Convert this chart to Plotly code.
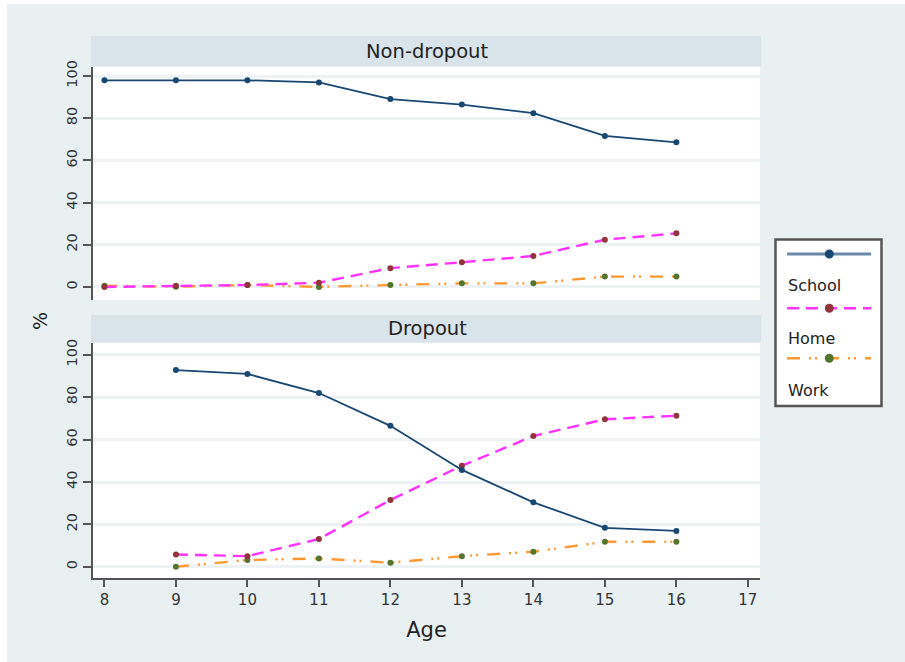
import plotly.graph_objects as go

# ---------------- data ----------------
ages_nd = [8, 9, 10, 11, 12, 13, 14, 15, 16]
school_nd = [98, 98, 98, 97, 89.1, 86.5, 82.4, 71.6, 68.6]
home_nd = [0, 0.6, 0.9, 2, 8.9, 11.7, 14.7, 22.4, 25.4]
work_nd = [0.6, 0.1, 0.9, 0, 0.9, 1.7, 1.7, 4.9, 4.9]

ages_d = [9, 10, 11, 12, 13, 14, 15, 16]
school_d = [92.8, 91.0, 82.0, 66.5, 45.7, 30.4, 18.4, 16.9]
home_d = [5.8, 5.0, 13.1, 31.5, 47.7, 61.7, 69.6, 71.3]
work_d = [0, 3.2, 3.9, 1.9, 5.0, 7.1, 11.8, 11.8]

panel_titles = ["Non-dropout", "Dropout"]
series_names = ["School", "Home", "Work"]
x_ticks = [8, 9, 10, 11, 12, 13, 14, 15, 16, 17]
y_ticks = [0, 20, 40, 60, 80, 100]

# ---------------- styles ----------------
BG = "#e9f0f2"
STRIP = "#d9e4ea"
GRID = "#edf2f4"
AXC = "#555555"
TXT = "#222222"
FONT = "DejaVu Sans"

styles = {
    "School": dict(line=dict(color="#1a476f", width=1.8), marker=dict(color="#1a476f", size=6)),
    "Home": dict(line=dict(color="#ff33ff", width=2.4, dash="12px,7px"), marker=dict(color="#90353b", size=6)),
    "Work": dict(line=dict(color="#ff9933", width=2.4, dash="13px,9px,2px,4px,2px,9px"), marker=dict(color="#55752f", size=6)),
}

fig = go.Figure()
panels = [
    (ages_nd, [school_nd, home_nd, work_nd], "x", "y"),
    (ages_d, [school_d, home_d, work_d], "x2", "y2"),
]
for ages, vals, xa, ya in panels:
    # draw Work first, then Home, then School on top
    for name, v in reversed(list(zip(series_names, vals))):
        st = styles[name]
        fig.add_trace(go.Scatter(x=ages, y=v, mode="lines+markers", name=name,
                                 line=st["line"], marker=st["marker"],
                                 xaxis=xa, yaxis=ya, showlegend=False))

# ---------------- geometry helpers (pixel -> paper) ----------------
ML, MR, MT, MB = 93, 145, 67, 84
W, H = 905, 662
PW, PH = W - ML - MR, H - MT - MB
def px(x):
    return (x - ML) / PW
def py(y):
    return (H - MB - y) / PH

top_dom = [py(300), 1.0]
bot_dom = [0.0, py(343)]

yax = dict(tickvals=y_ticks, tickangle=-90, showline=True, linecolor=AXC, linewidth=2,
           ticks="outside", ticklen=8, tickwidth=2, tickcolor=AXC,
           showgrid=True, gridcolor=GRID, gridwidth=3, zeroline=False,
           tickfont=dict(family=FONT, size=14.5, color="#333333"))
xax = dict(range=[7.84, 17.17], tickvals=x_ticks, zeroline=False, showgrid=False)

fig.update_layout(
    width=W, height=H,
    margin=dict(l=ML, r=MR, t=MT, b=MB),
    paper_bgcolor=BG, plot_bgcolor="white",
    font=dict(family=FONT, color=TXT),
    showlegend=False,
    xaxis=dict(**xax, anchor="y", showticklabels=False, ticks="", showline=False),
    yaxis=dict(**yax, domain=top_dom, range=[-6.2, 104.3], anchor="x"),
    xaxis2=dict(**xax, anchor="y2", showline=True, linecolor=AXC, linewidth=2,
                ticks="outside", ticklen=7, tickwidth=2, tickcolor=AXC,
                tickfont=dict(family=FONT, size=15, color="#333333"),
                title=dict(text="Age", font=dict(family=FONT, size=21, color=TXT), standoff=14)),
    yaxis2=dict(**yax, domain=bot_dom, range=[-5.3, 105.6], anchor="x2"),
)

shapes = []
annotations = []
# white outer edge
shapes.append(dict(type="rect", xref="paper", yref="paper", x0=px(0), x1=px(7), y0=py(662), y1=py(0),
                   fillcolor="white", line=dict(width=0), layer="below"))
shapes.append(dict(type="rect", xref="paper", yref="paper", x0=px(0), x1=px(905), y0=py(4), y1=py(0),
                   fillcolor="white", line=dict(width=0), layer="below"))
# strips
for title, (y0, y1) in zip(panel_titles, [(36, 66.5), (315, 342.5)]):
    shapes.append(dict(type="rect", xref="paper", yref="paper", x0=px(91), x1=px(761),
                       y0=py(y1), y1=py(y0), fillcolor=STRIP, line=dict(width=0)))
    annotations.append(dict(text=title, xref="paper", yref="paper", x=px(427), y=py((y0 + y1) / 2),
                            showarrow=False, xanchor="center", yanchor="middle",
                            font=dict(family=FONT, size=19.5, color=TXT)))

# y title
annotations.append(dict(text="%", xref="paper", yref="paper", x=px(40), y=py(321), textangle=-90,
                        showarrow=False, xanchor="center", yanchor="middle",
                        font=dict(family=FONT, size=19, color=TXT)))

# legend box
shapes.append(dict(type="rect", xref="paper", yref="paper", x0=px(775.5), x1=px(881.5),
                   y0=py(406), y1=py(239.5), fillcolor="white", line=dict(color="#555555", width=2.5)))
key_rows = [254, 308.3, 358.3]
text_rows = [285, 338, 390]
for name, ky, ty in zip(series_names, key_rows, text_rows):
    st = styles[name]
    lw = 3 if name == "School" else st["line"]["width"]
    lcol = "#6a89a8" if name == "School" else st["line"]["color"]
    shapes.append(dict(type="line", xref="paper", yref="paper", x0=px(787), x1=px(871), y0=py(ky), y1=py(ky),
                       line=dict(color=lcol, width=lw, dash=st["line"].get("dash", "solid"))))
    r = 4.5
    shapes.append(dict(type="circle", xref="paper", yref="paper", x0=px(829.3 - r), x1=px(829.3 + r),
                       y0=py(ky + r), y1=py(ky - r), fillcolor=st["marker"]["color"],
                       line=dict(width=0)))
    annotations.append(dict(text=name, xref="paper", yref="paper", x=px(786), y=py(ty),
                            showarrow=False, xanchor="left", yanchor="middle",
                            font=dict(family=FONT, size=16, color=TXT)))

fig.update_layout(shapes=shapes, annotations=annotations)
fig.write_html("out.html", config={"displayModeBar": False},
               post_script="document.body.style.margin='0px';")
